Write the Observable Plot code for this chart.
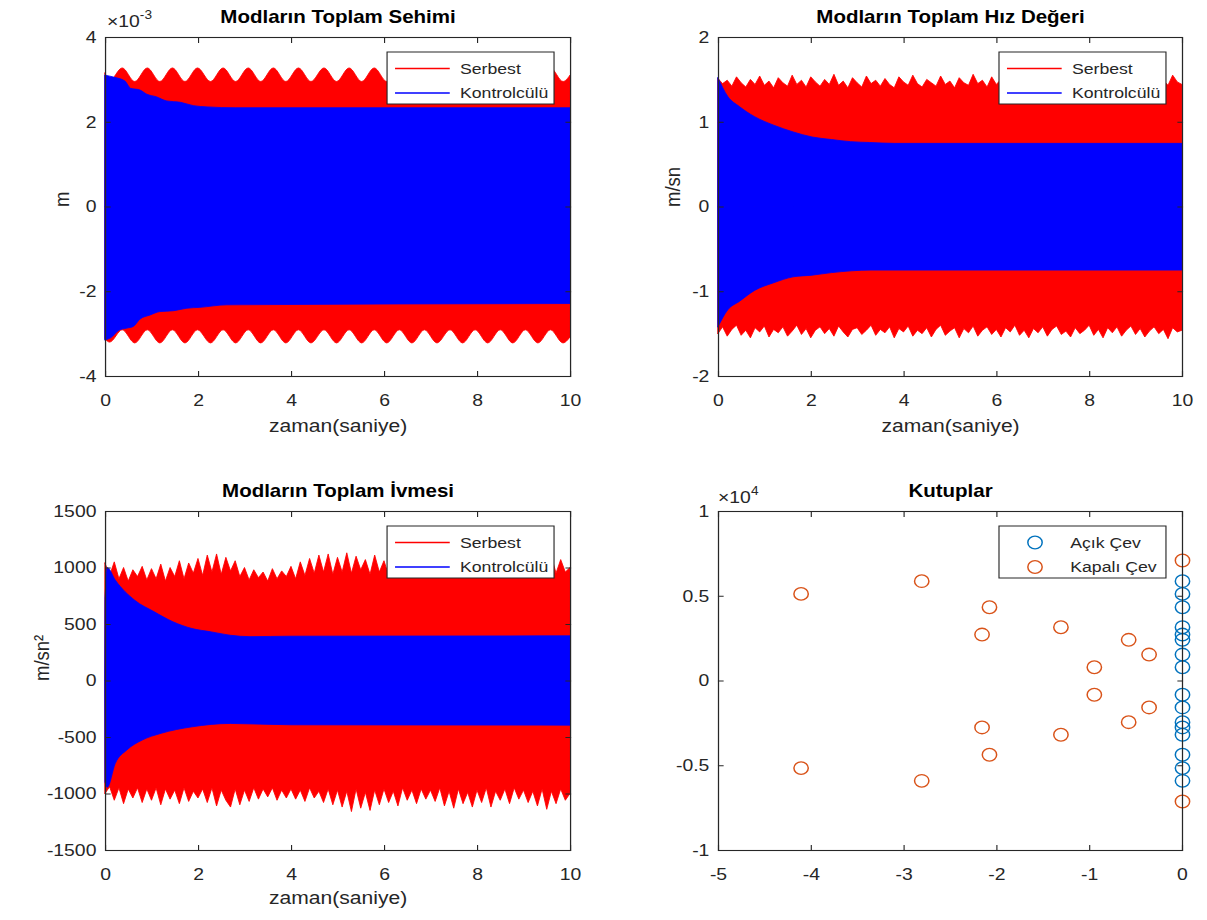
<!DOCTYPE html>
<html lang="tr">
<head>
<meta charset="utf-8">
<title>Modların Toplam Tepkisi ve Kutuplar</title>
<script src="https://cdn.jsdelivr.net/npm/d3@7"></script>
<script src="https://cdn.jsdelivr.net/npm/@observablehq/plot@0.6"></script>
<style>
  html, body { margin: 0; padding: 0; background: #fff; overflow: hidden; }
  #fig { position: relative; width: 1059px; height: 920px; transform-origin: 0 0; background: #fff; }
  .panel { position: absolute; }
  .panel svg { display: block; max-width: none; }
  #overlay { position: absolute; left: 0; top: 0; pointer-events: none; }
</style>
</head>
<body>
<div id="fig"></div>
<script>
// ---------------------------------------------------------------------------
// Series names and ticks
// ---------------------------------------------------------------------------
const seriesNames = ["Serbest", "Kontrolcülü"];
const poleNames = ["Açık Çev", "Kapalı Çev"];
const timeTicks = [0, 2, 4, 6, 8, 10];

// ---------------------------------------------------------------------------
// Modların toplam sehimi (values in units of 1e-3 m): envelope of the response
// ---------------------------------------------------------------------------
const sehimUnit = 1e-3;
const sehimTicks = [-4, -2, 0, 2, 4];
const sehimBeatT = [0, 0.10, 0.37, 0.64, 0.91, 1.18, 1.45, 1.72, 1.99, 2.27, 2.54, 2.81, 3.08, 3.35,
  3.62, 3.89, 4.16, 4.43, 4.71, 4.98, 5.25, 5.52, 5.79, 6.06, 6.33, 6.60, 6.87, 7.14, 7.42, 7.69,
  7.96, 8.23, 8.50, 8.77, 9.04, 9.31, 9.58, 9.85, 10];
const sehimFreeUp = [3.15, 2.97, 3.27, 2.95, 3.27, 2.95, 3.27, 2.95, 3.27, 2.95, 3.27, 2.95, 3.27, 2.95,
  3.27, 2.95, 3.27, 2.95, 3.27, 2.95, 3.27, 2.95, 3.27, 2.95, 3.27, 2.95, 3.27, 2.95, 3.27, 2.95,
  3.27, 2.95, 3.27, 2.95, 3.27, 2.95, 3.27, 2.95, 3.10];
const sehimFreeLow = [-3.12, -3.20, -2.91, -3.22, -2.91, -3.22, -2.91, -3.22, -2.91, -3.22, -2.91, -3.22, -2.91, -3.22,
  -2.91, -3.22, -2.91, -3.22, -2.91, -3.22, -2.91, -3.22, -2.91, -3.22, -2.91, -3.22, -2.91, -3.22, -2.91, -3.22,
  -2.91, -3.22, -2.91, -3.22, -2.91, -3.22, -2.91, -3.22, -3.08];
const sehimCtrlUpT = [0, 0.2, 0.43, 0.55, 0.75, 0.9, 1.1, 1.33, 1.62, 1.9, 2.2, 2.8, 10];
const sehimCtrlUpV = [3.10, 3.05, 2.96, 2.79, 2.75, 2.65, 2.59, 2.49, 2.46, 2.38, 2.35, 2.33, 2.33];
const sehimCtrlLowT = [0, 0.12, 0.3, 0.47, 0.61, 0.75, 0.97, 1.18, 1.47, 1.76, 2.04, 2.62, 10];
const sehimCtrlLowV = [-3.15, -3.10, -2.92, -2.87, -2.83, -2.66, -2.56, -2.48, -2.46, -2.40, -2.38, -2.32, -2.29];

// ---------------------------------------------------------------------------
// Modların toplam hız değeri (m/sn): outer edge sampled every 0.1 s
// ---------------------------------------------------------------------------
const hizTicks = [-2, -1, 0, 1, 2];
const hizFreeUp = [
  1.51, 1.45, 1.49, 1.42, 1.53, 1.46, 1.41, 1.50, 1.44, 1.54,
  1.43, 1.48, 1.40, 1.52, 1.46, 1.42, 1.55, 1.44, 1.49, 1.41,
  1.53, 1.47, 1.42, 1.50, 1.44, 1.56, 1.43, 1.48, 1.40, 1.52,
  1.46, 1.41, 1.54, 1.45, 1.49, 1.42, 1.51, 1.44, 1.40, 1.53,
  1.47, 1.43, 1.55, 1.45, 1.41, 1.50, 1.46, 1.42, 1.54, 1.44,
  1.48, 1.40, 1.52, 1.46, 1.43, 1.56, 1.45, 1.49, 1.41, 1.53,
  1.44, 1.50, 1.42, 1.54, 1.46, 1.41, 1.51, 1.45, 1.48, 1.40,
  1.53, 1.47, 1.43, 1.55, 1.44, 1.49, 1.42, 1.52, 1.46, 1.41,
  1.54, 1.45, 1.48, 1.40, 1.51, 1.47, 1.43, 1.56, 1.44, 1.50,
  1.42, 1.53, 1.46, 1.41, 1.52, 1.45, 1.49, 1.43, 1.55, 1.47,
  1.44];
const hizFreeLow = [
  -1.50, -1.42, -1.53, -1.45, -1.40, -1.52, -1.46, -1.55, -1.43, -1.48,
  -1.41, -1.54, -1.45, -1.49, -1.42, -1.53, -1.47, -1.40, -1.51, -1.44,
  -1.55, -1.46, -1.42, -1.50, -1.44, -1.53, -1.41, -1.48, -1.54, -1.45,
  -1.43, -1.51, -1.46, -1.40, -1.52, -1.45, -1.49, -1.42, -1.55, -1.44,
  -1.48, -1.41, -1.53, -1.46, -1.50, -1.43, -1.54, -1.45, -1.40, -1.52,
  -1.47, -1.43, -1.55, -1.44, -1.49, -1.41, -1.53, -1.46, -1.42, -1.51,
  -1.45, -1.54, -1.43, -1.48, -1.40, -1.52, -1.46, -1.55, -1.44, -1.49,
  -1.42, -1.53, -1.45, -1.41, -1.51, -1.47, -1.54, -1.43, -1.50, -1.46,
  -1.40, -1.52, -1.45, -1.55, -1.43, -1.49, -1.42, -1.53, -1.46, -1.41,
  -1.51, -1.44, -1.54, -1.47, -1.42, -1.50, -1.45, -1.56, -1.43, -1.48,
  -1.46];
const hizCtrlUpT = [0, 0.21, 0.46, 0.79, 1.2, 1.62, 2.03, 2.45, 2.86, 3.27, 3.8, 10];
const hizCtrlUpV = [1.52, 1.30, 1.18, 1.06, 0.96, 0.88, 0.82, 0.79, 0.765, 0.755, 0.745, 0.745];
const hizCtrlLowT = [0, 0.21, 0.46, 0.79, 1.2, 1.62, 2.03, 2.45, 3.3, 10];
const hizCtrlLowV = [-1.42, -1.22, -1.12, -0.99, -0.90, -0.83, -0.81, -0.78, -0.75, -0.75];

// ---------------------------------------------------------------------------
// Modların toplam ivmesi (m/sn²): outer edge sampled every 0.1 s
// ---------------------------------------------------------------------------
const ivmeTicks = [-1500, -1000, -500, 0, 500, 1000, 1500];
const ivmeFreeUp = [
  1040, 930, 1050, 900, 1000, 880, 980, 920, 1010, 890,
  990, 900, 1030, 880, 1000, 920, 1060, 900, 1040, 950,
  1080, 930, 1110, 960, 1120, 940, 1090, 970, 1060, 920,
  1000, 890, 980, 910, 960, 880, 990, 900, 970, 920,
  1010, 900, 1050, 930, 1080, 950, 1110, 960, 1120, 940,
  1090, 960, 1130, 950, 1100, 980, 1070, 940, 1110, 960,
  1060, 930, 1080, 950, 1040, 920, 1070, 940, 1050, 930,
  1080, 950, 1100, 940, 1060, 960, 1090, 930, 1050, 950,
  1070, 940, 1040, 960, 1090, 930, 1060, 950, 1030, 920,
  1050, 940, 1080, 960, 1040, 930, 1100, 950, 1070, 960,
  1000];
const ivmeFreeLow = [
  -1000, -940, -1060, -950, -1090, -960, -1040, -950, -1080, -960,
  -1060, -950, -1100, -960, -1050, -970, -1090, -950, -1070, -980,
  -1040, -960, -1080, -950, -1110, -970, -1060, -1120, -960, -1100,
  -970, -1070, -950, -1050, -960, -1030, -950, -1060, -970, -1040,
  -960, -1050, -970, -1070, -950, -1040, -980, -1080, -960, -1100,
  -970, -1120, -980, -1160, -960, -1130, -990, -1150, -970, -1100,
  -960, -1080, -980, -1110, -950, -1060, -970, -1090, -960, -1050,
  -970, -1070, -950, -1110, -980, -1130, -960, -1090, -990, -1120,
  -970, -1080, -950, -1120, -980, -1060, -960, -1090, -950, -1050,
  -970, -1080, -980, -1110, -960, -1140, -980, -1090, -960, -1060,
  -1000];
const ivmeCtrlUpT = [0, 0.05, 0.22, 0.64, 1.05, 1.46, 1.87, 2.29, 2.7, 3.12, 4.0, 10];
const ivmeCtrlUpV = [720, 1000, 890, 710, 610, 520, 460, 430, 400, 388, 392, 395];
const ivmeCtrlLowT = [0, 0.05, 0.22, 0.47, 0.8, 1.21, 1.87, 2.7, 4.0, 10];
const ivmeCtrlLowV = [-900, -945, -735, -615, -527, -467, -410, -380, -392, -395];

// ---------------------------------------------------------------------------
// Kutuplar: real part, imaginary part
// ---------------------------------------------------------------------------
const poleUnit = 1e4;
const reTicks = [-5, -4, -3, -2, -1, 0];
const imTicks = [-10000, -5000, 0, 5000, 10000];
const openRe = [0, 0, 0, 0, 0, 0, 0, 0, 0, 0, 0, 0, 0, 0, 0, 0];
const openIm = [810, 1560, 2430, 2740, 3170, 4350, 5140, 5890,
  -810, -1560, -2430, -2740, -3170, -4350, -5140, -5890];
const closedRe = [-4.11, -2.81, -2.08, -2.16, -1.31, -0.95, -0.58, -0.36, 0,
  -4.11, -2.81, -2.08, -2.16, -1.31, -0.95, -0.58, -0.36, 0];
const closedIm = [5140, 5890, 4350, 2740, 3170, 810, 2430, 1560, 7110,
  -5140, -5890, -4350, -2740, -3170, -810, -2430, -1560, -7110];

// ---------------------------------------------------------------------------
// Style
// ---------------------------------------------------------------------------
const FONT = '"Liberation Sans", Arial, Helvetica, sans-serif';
const AXIS = "#262626";
const RED = "#ff0000", BLUE = "#0000ff";
const OPEN = "#0072bd", CLOSED = "#d95319";
const FIG_W = 1059, FIG_H = 920;
const fig = document.getElementById("fig");
fig.style.transform = `scaleX(${1207 / FIG_W})`;

const tGrid = d3.range(101).map(i => i / 10);
const pairs = (T, V, k = 1) => T.map((t, i) => ({t, v: V[i] * k})).filter(d => Number.isFinite(d.v));

// band between zero and an envelope; the same-colour outline closes the seam at zero
function band(T, V, fill, curve, k = 1) {
  return Plot.areaY(pairs(T, V, k), {x: "t", y1: 0, y2: "v", fill, stroke: fill, strokeWidth: 0.8, curve});
}

function frameMarks(xTicks, xFmt, yTicks, yFmt) {
  return [
    Plot.axisX({ticks: xTicks, anchor: "bottom", tickSize: -5, tickPadding: 22, tickFormat: xFmt, label: null, fontSize: 17}),
    Plot.axisX({ticks: xTicks, anchor: "top", tickSize: -5, tickFormat: () => "", label: null}),
    Plot.axisY({ticks: yTicks, anchor: "left", tickSize: -5, tickPadding: 13, tickFormat: yFmt, label: null, fontSize: 17}),
    Plot.axisY({ticks: yTicks, anchor: "right", tickSize: -5, tickFormat: () => "", label: null}),
    Plot.frame({stroke: AXIS, strokeWidth: 1.1})
  ];
}

function titleMark(text, dy) {
  return Plot.text([text], {text: d => d, frameAnchor: "top", dy, fontWeight: "bold", fontSize: 18, fill: "#000"});
}
function xLabelMark(text, dy) {
  return Plot.text([text], {text: d => d, frameAnchor: "bottom", dy, fontSize: 18.5, fill: AXIS});
}
function yLabelMark(text, dx) {
  return Plot.text([text], {text: d => d, frameAnchor: "left", dx, rotate: -90, fontSize: 18.5, fill: AXIS});
}

function mount(chart, left, top, width, height) {
  const div = document.createElement("div");
  div.className = "panel";
  Object.assign(div.style, {left: left + "px", top: top + "px", width: width + "px", height: height + "px"});
  div.appendChild(chart);
  fig.appendChild(div);
}

const plain = d => String(d);
const commonStyle = {fontFamily: FONT, fontSize: "17px", color: AXIS, background: "transparent", overflow: "visible"};
const leftBox = {width: 530, height: 460, marginLeft: 92.1, marginRight: 29.9};
const rightBox = {width: 529, height: 460, marginLeft: 99.9, marginRight: 22};
const topBox = {marginTop: 37, marginBottom: 84};
const bottomBox = {marginTop: 51, marginBottom: 70};

// 1) Sehim
mount(Plot.plot({
  ...leftBox, ...topBox, style: commonStyle,
  x: {domain: [0, 10]},
  y: {domain: [-4 * sehimUnit, 4 * sehimUnit]},
  marks: [
    band(sehimBeatT, sehimFreeUp, RED, "monotone-x", sehimUnit),
    band(sehimBeatT, sehimFreeLow, RED, "monotone-x", sehimUnit),
    band(sehimCtrlUpT, sehimCtrlUpV, BLUE, "monotone-x", sehimUnit),
    band(sehimCtrlLowT, sehimCtrlLowV, BLUE, "monotone-x", sehimUnit),
    ...frameMarks(timeTicks, plain, sehimTicks.map(d => d * sehimUnit), d => String(Math.round(d / sehimUnit))),
    titleMark("Modların Toplam Sehimi", -27),
    xLabelMark("zaman(saniye)", 55),
    yLabelMark("m", -37.7)
  ]
}), 0, 0, 530, 460);

// 2) Hız
mount(Plot.plot({
  ...rightBox, ...topBox, style: commonStyle,
  x: {domain: [0, 10]},
  y: {domain: [-2, 2]},
  marks: [
    band(tGrid, hizFreeUp, RED, "linear"),
    band(tGrid, hizFreeLow, RED, "linear"),
    band(hizCtrlUpT, hizCtrlUpV, BLUE, "monotone-x"),
    band(hizCtrlLowT, hizCtrlLowV, BLUE, "monotone-x"),
    ...frameMarks(timeTicks, plain, hizTicks, plain),
    titleMark("Modların Toplam Hız Değeri", -27),
    xLabelMark("zaman(saniye)", 55),
    yLabelMark("m/sn", -39.4)
  ]
}), 530, 0, 529, 460);

// 3) İvme
mount(Plot.plot({
  ...leftBox, ...bottomBox, style: commonStyle,
  x: {domain: [0, 10]},
  y: {domain: [-1500, 1500]},
  marks: [
    band(tGrid, ivmeFreeUp, RED, "linear"),
    band(tGrid, ivmeFreeLow, RED, "linear"),
    band(ivmeCtrlUpT, ivmeCtrlUpV, BLUE, "monotone-x"),
    band(ivmeCtrlLowT, ivmeCtrlLowV, BLUE, "monotone-x"),
    ...frameMarks(timeTicks, plain, ivmeTicks, plain),
    titleMark("Modların Toplam İvmesi", -27),
    xLabelMark("zaman(saniye)", 53),
    yLabelMark("m/sn²", -55.3)
  ]
}), 0, 460, 530, 460);

// 4) Kutuplar
const openPoles = openRe.map((re, i) => ({re, im: openIm[i]}));
const closedPoles = closedRe.map((re, i) => ({re, im: closedIm[i]}));
mount(Plot.plot({
  ...rightBox, ...bottomBox, style: commonStyle,
  x: {domain: [-5, 0]},
  y: {domain: [-poleUnit, poleUnit]},
  marks: [
    Plot.dot(openPoles, {x: "re", y: "im", r: 6.3, stroke: OPEN, strokeWidth: 1.3, fill: "none"}),
    Plot.dot(closedPoles, {x: "re", y: "im", r: 6.3, stroke: CLOSED, strokeWidth: 1.3, fill: "none"}),
    ...frameMarks(reTicks, plain, imTicks, d => String(d / poleUnit)),
    titleMark("Kutuplar", -27)
  ]
}), 530, 460, 529, 460);

// ---------------------------------------------------------------------------
// Legends and axis exponents
// ---------------------------------------------------------------------------
const overlay = d3.select(fig).append("svg")
  .attr("id", "overlay").attr("width", FIG_W).attr("height", FIG_H)
  .attr("font-family", FONT);

const LEG_W = 146.5, LEG_H = 52;
function legendBox(frameRight, top) {
  const g = overlay.append("g").attr("transform", `translate(${frameRight - 160.5},${top})`);
  g.append("rect").attr("width", LEG_W).attr("height", LEG_H)
    .attr("fill", "#fff").attr("stroke", AXIS).attr("stroke-width", 1);
  return g;
}
function seriesLegend(frameRight, top) {
  const g = legendBox(frameRight, top);
  [[RED, seriesNames[0], 16.5], [BLUE, seriesNames[1], 41]].forEach(([c, name, y]) => {
    g.append("line").attr("x1", 7).attr("x2", 55).attr("y1", y).attr("y2", y)
      .attr("stroke", c).attr("stroke-width", 1.3);
    g.append("text").attr("x", 64).attr("y", y).attr("dy", "0.35em")
      .attr("font-size", 15.5).attr("fill", AXIS).text(name);
  });
}
function poleLegend(frameRight, top) {
  const g = legendBox(frameRight, top);
  [[OPEN, poleNames[0], 16.5], [CLOSED, poleNames[1], 41]].forEach(([c, name, y]) => {
    g.append("circle").attr("cx", 31.6).attr("cy", y).attr("r", 6.3)
      .attr("fill", "none").attr("stroke", c).attr("stroke-width", 1.3);
    g.append("text").attr("x", 62.5).attr("y", y).attr("dy", "0.35em")
      .attr("font-size", 15.5).attr("fill", AXIS).text(name);
  });
}
function exponentLabel(x, baseline, exp) {
  const t = overlay.append("text").attr("x", x).attr("y", baseline)
    .attr("font-size", 17).attr("fill", AXIS);
  t.append("tspan").text("×10");
  t.append("tspan").attr("dy", -8).attr("font-size", 12).text(exp);
}

const leftFrameRight = 530 - 29.9, rightFrameRight = 1059 - 22;
seriesLegend(leftFrameRight, 52);
seriesLegend(rightFrameRight, 52);
seriesLegend(leftFrameRight, 526);
poleLegend(rightFrameRight, 526);
exponentLabel(93.9, 27, "-3");
exponentLabel(630, 503, "4");
</script>
</body>
</html>
